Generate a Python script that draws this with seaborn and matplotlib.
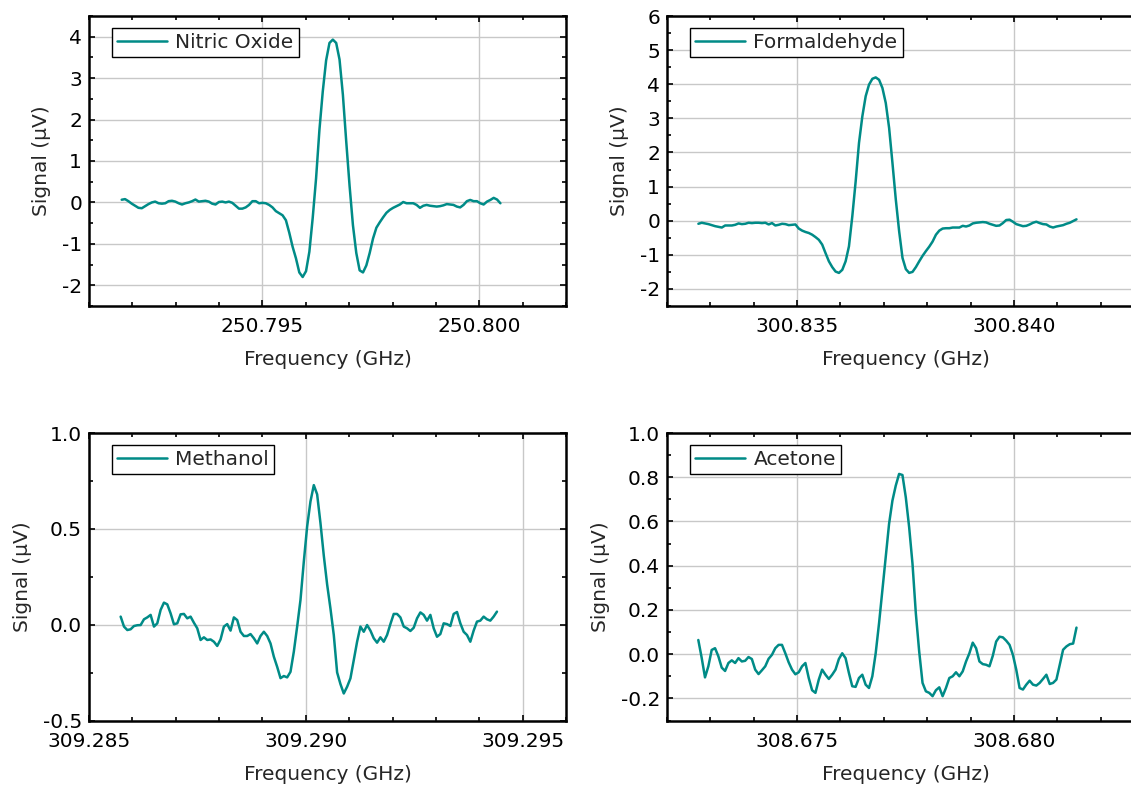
import numpy as np
import pandas as pd
import matplotlib
matplotlib.use("Agg")
import matplotlib.pyplot as plt
from matplotlib.ticker import MultipleLocator, FormatStrFormatter
import seaborn as sns

# ---------------- data ----------------
no_freq_range = (250.791754, 250.800487)
no_signal = [0.065, 0.08, 0.03, -0.03, -0.08, -0.13, -0.14, -0.09, -0.04, 0.0,
             0.02, -0.02, -0.03, -0.02, 0.03, 0.04, 0.02, -0.02, -0.05, -0.02,
             0.0, 0.03, 0.07, 0.02, 0.03, 0.04, 0.02, -0.03, -0.05, 0.01,
             0.02, 0.0, 0.02, -0.01, -0.08, -0.15, -0.15, -0.12, -0.06, 0.03,
             0.03, -0.02, -0.01, -0.02, -0.06, -0.12, -0.21, -0.26, -0.31, -0.43,
             -0.73, -1.07, -1.35, -1.69, -1.80, -1.66, -1.19, -0.37, 0.58, 1.75,
             2.68, 3.43, 3.85, 3.93, 3.85, 3.45, 2.60, 1.47, 0.40, -0.55,
             -1.22, -1.64, -1.69, -1.52, -1.22, -0.87, -0.61, -0.48, -0.36, -0.25,
             -0.18, -0.13, -0.09, -0.05, 0.01, -0.02, -0.02, -0.02, -0.06, -0.13,
             -0.08, -0.06, -0.08, -0.09, -0.10, -0.09, -0.07, -0.04, -0.05, -0.06,
             -0.10, -0.12, -0.06, 0.03, 0.06, 0.03, 0.03, -0.02, -0.05, 0.02,
             0.06, 0.11, 0.07, -0.02]

fa_freq_range = (300.832724, 300.841443)
fa_signal = [-0.09, -0.06, -0.08, -0.10, -0.13, -0.16, -0.18, -0.20, -0.14, -0.14,
             -0.14, -0.12, -0.08, -0.10, -0.09, -0.06, -0.07, -0.06, -0.06, -0.07,
             -0.06, -0.11, -0.07, -0.14, -0.12, -0.09, -0.10, -0.13, -0.12, -0.11,
             -0.23, -0.29, -0.33, -0.36, -0.41, -0.48, -0.56, -0.70, -0.95, -1.19,
             -1.36, -1.49, -1.53, -1.44, -1.19, -0.75, 0.13, 1.15, 2.28, 3.06,
             3.65, 3.99, 4.16, 4.20, 4.13, 3.89, 3.45, 2.72, 1.69, 0.62,
             -0.31, -1.09, -1.42, -1.53, -1.50, -1.36, -1.19, -1.03, -0.89, -0.76,
             -0.61, -0.41, -0.29, -0.23, -0.22, -0.22, -0.20, -0.20, -0.20, -0.15,
             -0.17, -0.14, -0.08, -0.06, -0.05, -0.04, -0.05, -0.09, -0.12, -0.15,
             -0.14, -0.07, 0.02, 0.03, -0.03, -0.10, -0.13, -0.16, -0.15, -0.11,
             -0.06, -0.03, -0.07, -0.10, -0.11, -0.17, -0.20, -0.17, -0.15, -0.13,
             -0.09, -0.06, -0.01, 0.04]

me_freq_range = (309.28573, 309.294408)
me_signal = [0.042, -0.010, -0.028, -0.024, -0.007, -0.003, -0.002, 0.028, 0.038, 0.051,
             -0.010, 0.007, 0.077, 0.115, 0.106, 0.059, 0.002, 0.007, 0.054, 0.056,
             0.033, 0.042, 0.010, -0.019, -0.080, -0.066, -0.080, -0.077, -0.089, -0.111,
             -0.077, -0.010, 0.003, -0.031, 0.038, 0.024, -0.037, -0.059, -0.059, -0.049,
             -0.071, -0.098, -0.059, -0.037, -0.059, -0.098, -0.167, -0.220, -0.279, -0.268,
             -0.275, -0.246, -0.141, -0.010, 0.129, 0.329, 0.512, 0.643, 0.728, 0.68,
             0.53, 0.36, 0.21,
             0.084, -0.054, -0.249, -0.31, -0.359, -0.324, -0.280, -0.185, -0.089, -0.010,
             -0.037, -0.002, -0.031, -0.071, -0.094, -0.066, -0.089, -0.054, 0.003, 0.056,
             0.056, 0.038, -0.010, -0.019, -0.033, -0.016, 0.033, 0.064, 0.051, 0.021,
             0.051, -0.019, -0.063, -0.049, 0.007, 0.003, -0.007, 0.056, 0.066, 0.007,
             -0.037, -0.054, -0.089, -0.031, 0.016, 0.021, 0.042, 0.028, 0.021, 0.042, 0.068]

ac_freq_range = (308.672722, 308.681443)
ac_signal = [0.064, -0.016, -0.105, -0.055, 0.019, 0.027, -0.010, -0.061, -0.076, -0.040,
             -0.028, -0.040, -0.018, -0.033, -0.030, -0.013, -0.022, -0.070, -0.090, -0.073,
             -0.055, -0.021, -0.003, 0.027, 0.042, 0.042, 0.004, -0.037, -0.070, -0.091,
             -0.082, -0.055, -0.040, -0.108, -0.163, -0.175, -0.115, -0.070, -0.093, -0.112,
             -0.093, -0.070, -0.022, 0.004, -0.018, -0.085, -0.145, -0.148, -0.108, -0.093,
             -0.138, -0.153,
             -0.100, 0.004, 0.139, 0.289, 0.439, 0.589, 0.694, 0.762, 0.815, 0.81,
             0.709, 0.574, 0.409, 0.184, 0.012, -0.130, -0.168, -0.175, -0.190, -0.163,
             -0.150, -0.190, -0.153, -0.108, -0.100, -0.082, -0.100, -0.078, -0.033, 0.004,
             0.052, 0.027, -0.033, -0.045, -0.048, -0.055, -0.007, 0.057, 0.079, 0.076,
             0.061, 0.042, -0.003, -0.070, -0.153, -0.160, -0.138, -0.120, -0.138, -0.142,
             -0.130, -0.112, -0.093, -0.135, -0.130, -0.115, -0.048,
             0.02, 0.035, 0.045, 0.048, 0.12]

names = ["Nitric Oxide", "Formaldehyde", "Methanol", "Acetone"]
freq_ranges = [no_freq_range, fa_freq_range, me_freq_range, ac_freq_range]
signals = [no_signal, fa_signal, me_signal, ac_signal]
xlims = [(250.791, 250.802), (300.832, 300.843), (309.285, 309.296), (308.672, 308.683)]
ylims = [(-2.5, 4.5), (-2.5, 6.0), (-0.5, 1.0), (-0.3, 1.0)]
y_major = [1.0, 1.0, 0.5, 0.2]
y_fmt = ["%d", "%d", "%.1f", "%.1f"]

# ---------------- style ----------------
sns.set_style("ticks")
plt.rcParams["font.family"] = ["DejaVu Sans"]
plt.rcParams["axes.unicode_minus"] = False
FS = 14.5
LINE = "#008b87"

fig = plt.figure(figsize=(11.31, 7.85), dpi=100)
W, H = 1131.0, 785.0
# axes boxes in pixels: left, top, width, height
boxes = [(89, 16, 477, 290), (667, 16, 477, 290),
         (89, 433, 477, 287.5), (667, 433, 477, 287.5)]

for i in range(4):
    l, t, w, h = boxes[i]
    ax = fig.add_axes([l / W, 1 - (t + h) / H, w / W, h / H])
    f0, f1 = freq_ranges[i]
    y = np.array(signals[i])
    df = pd.DataFrame({"Frequency": np.linspace(f0, f1, len(y)), "Signal": y})
    sns.lineplot(data=df, x="Frequency", y="Signal", ax=ax, color=LINE,
                 linewidth=1.8, label=names[i], estimator=None, sort=False)
    for ln in ax.get_lines():
        ln.set_solid_joinstyle("round")
    ax.set_xlim(*xlims[i])
    ax.set_ylim(*ylims[i])
    ax.xaxis.set_major_locator(MultipleLocator(0.005))
    ax.xaxis.set_minor_locator(MultipleLocator(0.001))
    ax.xaxis.set_major_formatter(FormatStrFormatter("%.3f"))
    ax.yaxis.set_major_locator(MultipleLocator(y_major[i]))
    ax.yaxis.set_minor_locator(MultipleLocator(y_major[i] / 2))
    ax.yaxis.set_major_formatter(FormatStrFormatter(y_fmt[i]))
    ax.grid(True, which="major", color="#c8c8c8", linewidth=1.0)
    ax.set_axisbelow(True)
    ax.tick_params(which="both", direction="in", top=True, right=True,
                   width=1.2, color="black", labelsize=FS, labelcolor="black")
    ax.tick_params(which="major", length=4)
    ax.tick_params(which="minor", length=3)
    ax.tick_params(axis="x", which="major", pad=8)
    ax.tick_params(axis="y", which="major", pad=5)
    for s in ax.spines.values():
        s.set_linewidth(1.8)
        s.set_color("black")
    ax.set_xlabel("Frequency (GHz)", fontsize=FS, labelpad=10)
    ax.set_ylabel("Signal (μV)", fontsize=FS, labelpad=8)
    leg = ax.legend(loc="upper left", bbox_to_anchor=(23 / w, 1 - 12 / h),
                    borderaxespad=0, frameon=True, fancybox=False,
                    edgecolor="black", framealpha=1, fontsize=FS,
                    handlelength=2.5, handletextpad=0.4, borderpad=0.25)
    leg.get_frame().set_linewidth(1.0)

fig.savefig("out.png", dpi=100)
